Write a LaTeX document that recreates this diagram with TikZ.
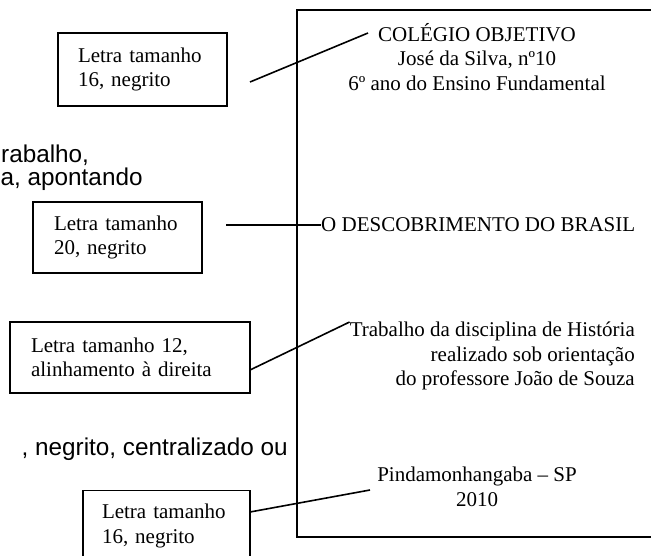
\documentclass[tikz,border=0pt]{standalone}
\usepackage{fontspec}
\setmainfont{Liberation Serif}
\setsansfont{Liberation Sans}
\usetikzlibrary{positioning}
\newcommand{\letracapa}{\fontsize{21}{24.5}\selectfont}
\newcommand{\letracorpo}{\sffamily\fontsize{24.3}{28}\selectfont}
\tikzset{
	rotulo/.style={draw, line width=1.8pt, align=left, inner ysep=0pt, font=\letracapa},
	capa/.style={inner sep=0pt, font=\letracapa},
	corpo/.style={inner sep=0pt, font=\letracorpo},
	ligacao/.style={draw, line width=1.6pt}
}

\begin{document}
\begin{tikzpicture}[x=1pt, y=-1pt]
\clip (0,0) rectangle (651,555);
% texto do documento ao fundo
\node (fundoa) [corpo, anchor=base west] at (1,162) {rabalho,};
\node (fundob) [corpo, anchor=base west] at (0.5,185) {a, apontando};
\node (fundoc) [corpo, anchor=base east] at (288,455) {, negrito, centralizado ou};
% folha da capa
\draw[line width=1.8pt] (297,10) rectangle (700,537);
\node (cabecalho) [capa, anchor=north, align=center] at (477,23) {COLÉGIO OBJETIVO\\José da Silva, nº10\\6º ano do Ensino Fundamental};
\node (titulo) [capa, anchor=west] at (321,225) {O DESCOBRIMENTO DO BRASIL};
\node (natureza) [capa, anchor=north east, align=right] at (635,322) {Trabalho da disciplina de História\\realizado sob orientação\\do professore João de Souza};
\node (local) [capa, anchor=north, align=center] at (477,467) {Pindamonhangaba – SP\\2010};
% caixas de indicacao
\node (rotulocab) [rotulo, text width=129pt, inner xsep=20pt, minimum height=73pt] at (142.5,69.5) {Letra tamanho\\16, negrito};
\node (rotulotit) [rotulo, text width=127pt, inner xsep=21pt, minimum height=71pt] at (117.5,237.5) {Letra tamanho\\20, negrito};
\node (rotulonat) [rotulo, text width=198pt, inner xsep=21pt, minimum height=71pt] at (130,357.5) {Letra tamanho 12,\\alinhamento à direita};
\node (rotuloloc) [rotulo, text width=129pt, inner xsep=19pt, minimum height=71pt] at (166.5,526) {Letra tamanho\\16, negrito};
% ligacoes
\coordinate (ia) at (250,82); \coordinate (fa) at (368,33);
\coordinate (ib) at (226,225);
\coordinate (ic) at (250,370);
\coordinate (id) at (250,512); \coordinate (fd) at (370,490);
\draw[ligacao] (ia) -- (fa);
\draw[ligacao] (ib) -- (titulo.west);
\draw[ligacao] (ic) -- (natureza.north west);
\draw[ligacao] (id) -- (fd);
\end{tikzpicture}
\end{document}
